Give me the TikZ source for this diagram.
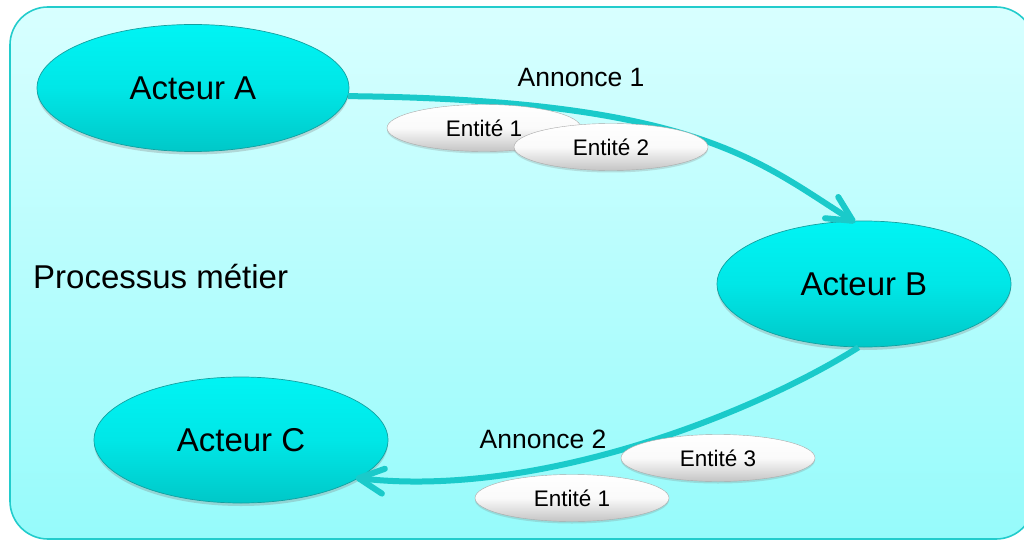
\documentclass[tikz,border=0pt]{standalone}
\usepackage{fontspec}
\setmainfont{Liberation Sans}
\usetikzlibrary{shapes.geometric,shadows,decorations.markings}

\definecolor{bgtop}{RGB}{216,255,255}
\definecolor{bgbot}{RGB}{150,251,251}
\definecolor{framecol}{RGB}{34,204,204}
\definecolor{flowcol}{RGB}{26,202,202}
\definecolor{actortop}{RGB}{0,244,244}
\definecolor{actorbot}{RGB}{0,200,200}
\definecolor{actoredge}{RGB}{20,160,160}
\definecolor{entitybot}{RGB}{196,196,196}
\definecolor{entityedge}{RGB}{170,170,170}

\begin{document}
\begin{tikzpicture}[x=1pt,y=-1pt,
  actor/.style={ellipse, inner sep=0pt, minimum width=294pt, minimum height=126pt,
    top color=actortop, bottom color=actorbot, middle color=actortop!70!actorbot,
    draw=actoredge, line width=0.7pt,
    drop shadow={shadow xshift=0pt, shadow yshift=-3pt, opacity=0.3},
    font=\fontsize{33}{38}\selectfont},
  entity/.style={ellipse, inner sep=0pt, minimum width=194pt, minimum height=47pt,
    top color=white, bottom color=entitybot, middle color=white!92!entitybot,
    draw=entityedge, line width=0.4pt,
    drop shadow={shadow xshift=0pt, shadow yshift=-2pt, opacity=0.25},
    font=\fontsize{22.5}{26}\selectfont},
  label/.style={inner sep=0pt, font=\fontsize{26.5}{30}\selectfont},
  % thick teal flow with an open, round-capped barb at its end
  flow/.style={draw=flowcol, line width=6pt,
    postaction={decorate, decoration={markings, mark=at position 1 with {
      \draw[flowcol, line width=6pt, line cap=round, line join=round]
        (-25pt,12.5pt) -- (0pt,0pt) -- (-25pt,-12.5pt);}}}}
]
\useasboundingbox (0,0) rectangle (1024,540);
\clip (0,0) rectangle (1024,540);
\fill[white] (0,0) rectangle (1024,540);

% process frame
\shade[top color=bgtop, bottom color=bgbot]
  [rounded corners=38pt] (10,7) rectangle (1034,539);
\draw[framecol, line width=1.6pt, rounded corners=38pt] (10,7) rectangle (1034,539);

\node[inner sep=0pt, anchor=base west, font=\fontsize{33}{38}\selectfont]
  (proc) at (33,288) {Processus métier};

% actors
\node[actor, minimum width=312pt, minimum height=127pt] (A) at (193,88) {Acteur A};
\node[actor] (B) at (864,284) {Acteur B};
\node[actor] (C) at (241,440) {Acteur C};

% message flows
\draw[flow] (A.-3) .. controls (700,100) and (760,163) .. (B.100);
\draw[flow] (B.265) .. controls (760,410) and (540,500) .. (C.-18);

\node[label, anchor=base] (ann1) at (581,87)  {Annonce 1};
\node[label, anchor=base] (ann2) at (543,448) {Annonce 2};

% carried entities
\node[entity] (e11) at (484,128) {Entité 1};
\node[entity] (e12) at (611,147) {Entité 2};
\node[entity] (e23) at (718,458) {Entité 3};
\node[entity] (e21) at (572,498) {Entité 1};
\end{tikzpicture}
\end{document}
